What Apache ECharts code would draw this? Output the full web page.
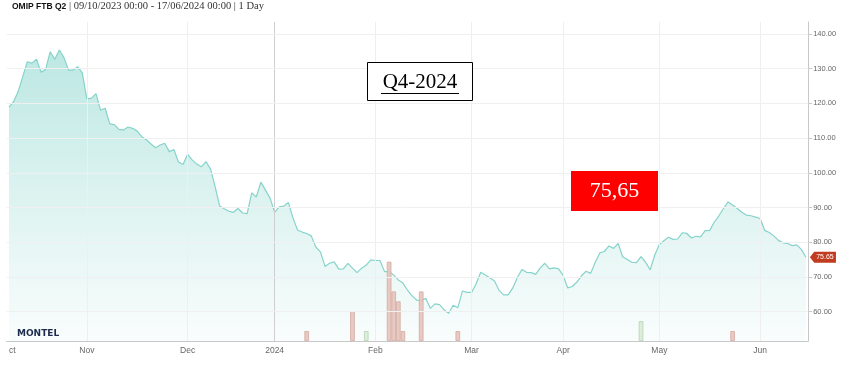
<!DOCTYPE html>
<html><head><meta charset="utf-8">
<script src="https://cdn.jsdelivr.net/npm/echarts@6/dist/echarts.min.js"></script>
<style>html,body{margin:0;padding:0;background:#fff}#c{width:853px;height:374px}</style>
</head><body><div id="c"></div>
<script>
// ---- data ----
const titleMain = 'OMIP FTB Q2';
const titleSub = '| 09/10/2023 00:00 - 17/06/2024 00:00 | 1 Day';
const startDate = '2023-10-09';
const endDate = '2024-06-17';
const holidays = ['2023-12-25','2023-12-26','2024-01-01','2024-03-29','2024-04-01','2024-05-01'];
const monthLabels = {'2023-10':'Oct','2023-11':'Nov','2023-12':'Dec','2024-01':'2024','2024-02':'Feb','2024-03':'Mar','2024-04':'Apr','2024-05':'May','2024-06':'Jun'};
const yTicks = [60,70,80,90,100,110,120,130,140];
const prices = [
118.9,120.5,123.4,127.7,132.0,131.6,132.7,129.0,129.8,134.9,
132.7,135.4,133.2,129.6,129.6,130.6,128.8,121.3,121.5,122.8,
118.0,118.6,114.1,113.9,112.5,112.3,113.2,112.8,112.0,110.4,
109.5,108.3,107.2,108.0,108.5,106.1,106.7,103.1,102.4,105.3,
103.7,102.5,101.7,103.2,101.1,96.0,90.4,89.6,88.9,88.6,
89.7,88.4,88.2,94.2,93.0,97.3,95.0,92.7,88.6,90.2,
90.4,91.4,87.0,83.5,82.9,82.5,81.8,78.6,77.2,73.0,
73.9,74.3,72.2,72.3,73.9,72.5,71.2,72.5,73.4,74.9,
74.7,74.7,71.5,71.5,70.5,69.1,68.2,66.2,64.5,63.3,
63.1,63.8,60.9,62.2,62.0,60.5,59.5,61.8,61.1,65.9,
65.5,65.5,68.0,71.3,70.5,69.7,68.8,66.1,64.8,64.8,
66.8,69.8,72.1,71.3,71.2,70.7,72.6,73.9,72.3,72.6,
72.3,70.4,66.8,67.2,68.5,70.3,71.6,71.0,74.2,76.9,
77.3,78.9,78.2,79.6,75.8,75.0,74.2,74.1,75.8,74.2,
72.0,76.3,79.3,80.4,81.4,80.8,80.9,82.7,82.5,81.2,
81.7,81.5,83.3,83.4,85.8,87.6,89.7,91.6,90.7,89.7,
88.6,87.8,87.6,87.2,86.8,83.4,82.8,81.8,80.5,79.8,
79.6,79.0,79.2,77.9,75.65
];
const volumeDates = ['2024-01-11','2024-01-25','2024-01-30','2024-02-06','2024-02-07','2024-02-08','2024-02-09','2024-02-15','2024-02-27','2024-04-25','2024-05-24'];
const volumeValues = [1,3,1,8,5,4,1,5,1,2,1];
const volumeSide = ['s','s','b','s','s','s','s','s','s','b','s'];
const boxLabel = 'Q4-2024';
const priceLabel = '75,65';
const logoText = 'MONTEL';

// ---- build categories (trading days) ----
function fmt(d){return d.getUTCFullYear()+'-'+String(d.getUTCMonth()+1).padStart(2,'0')+'-'+String(d.getUTCDate()).padStart(2,'0');}
const dates = [];
for (let d = new Date(startDate+'T00:00:00Z'); fmt(d) <= endDate; d.setUTCDate(d.getUTCDate()+1)) {
  const wd = d.getUTCDay(), s = fmt(d);
  if (wd === 0 || wd === 6 || holidays.includes(s)) continue;
  dates.push(s);
}
const monthStart = new Set();
for (let i = 1; i < dates.length; i++) if (dates[i].slice(0,7) !== dates[i-1].slice(0,7)) monthStart.add(i);

const volData = dates.map(()=>null);
volumeDates.forEach((d,k)=>{
  const idx = dates.indexOf(d);
  if (idx >= 0) volData[idx] = {value: volumeValues[k], itemStyle: volumeSide[k]==='b'
    ? {color:'rgba(218,236,216,0.95)', borderColor:'#b5d3b2', borderWidth:0.8}
    : {color:'rgba(230,196,188,0.9)', borderColor:'#d4a99f', borderWidth:0.8}};
});

const gridLines = [];
monthStart.forEach(i=>{
  const isYear = dates[i].slice(5,7) === '01';
  gridLines.push({xAxis: dates[i], lineStyle:{color: isYear ? '#cfcfcf' : '#efefef', width:1, type:'solid'}});
});
yTicks.forEach(v=>gridLines.push({yAxis: v, lineStyle:{color:'#f0f0f0', width:1, type:'solid'}}));

const last = prices.length - 1;
const chart = echarts.init(document.getElementById('c'), null, {renderer:'canvas'});
chart.setOption({
  animation:false,
  backgroundColor:'#fff',
  title:{
    left:12, top:1, padding:0,
    text:'{b|'+titleMain+'}{s| '+titleSub+'}',
    textStyle:{fontWeight:'normal', rich:{
      b:{fontFamily:'Liberation Sans', fontWeight:'bold', fontSize:8.5, color:'#111'},
      s:{fontFamily:'Liberation Serif', fontWeight:'normal', fontSize:10.5, color:'#333'}
    }}
  },
  grid:{left:6.7, right:44.8, top:22, bottom:33, containLabel:false, outerBoundsMode:'none'},
  xAxis:{
    type:'category', data:dates, boundaryGap:true,
    axisLine:{lineStyle:{color:'#c8c8c8'}},
    axisTick:{show:false},
    splitLine:{show:false},
    axisLabel:{
      interval:(i)=> i===0 || monthStart.has(i),
      formatter:(v,i)=> i===0 ? '{h|O}ct' : monthLabels[v.slice(0,7)],
      color:'#666', fontSize:8.5, fontFamily:'Liberation Sans', margin:5,
      rich:{h:{color:'rgba(0,0,0,0)', fontSize:8.5, fontFamily:'Liberation Sans'}}
    }
  },
  yAxis:[{
    type:'value', position:'right', min:51.5, max:143.46,
    axisLine:{show:true, lineStyle:{color:'#c8c8c8'}},
    axisTick:{show:true, length:4, lineStyle:{color:'#c8c8c8'}, customValues:yTicks},
    axisLabel:{customValues:yTicks, formatter:(v)=>v.toFixed(2), color:'#666', fontSize:7.5, fontFamily:'Liberation Sans', margin:5},
    splitLine:{show:false}
  },{
    type:'value', min:0, max:32.2, show:false, splitLine:{show:false}
  }],
  series:[{
    type:'line', data:[], z:1, silent:true,
    markLine:{silent:true, symbol:'none', label:{show:false}, animation:false, data:gridLines}
  },{
    type:'line', data:prices, z:2, showSymbol:false, symbol:'none',
    lineStyle:{color:'#86d3cb', width:1.2},
    areaStyle:{origin:'start', color:{type:'linear', x:0, y:22, x2:0, y2:341, global:true, colorStops:[
      {offset:0, color:'rgba(92,198,186,0.64)'},
      {offset:0.5, color:'rgba(92,198,186,0.33)'},
      {offset:1, color:'rgba(92,198,186,0.05)'}]}},
    markPoint:{
      silent:true, animation:false,
      symbol:'path://M0,5 L5,0 L30,0 L30,10 L5,10 Z', symbolKeepAspect:false,
      symbolSize:[26,11], symbolOffset:[17,0],
      itemStyle:{color:'#c23b1e'},
      label:{show:true, position:'inside', color:'#fff', fontSize:7, fontFamily:'Liberation Sans', offset:[2,0], formatter:(p)=>Number(p.value).toFixed(2)},
      data:[{coord:[dates[last], prices[last]], value:prices[last]}]
    }
  },{
    type:'bar', yAxisIndex:1, data:volData, barWidth:4.6, z:3, silent:true
  }],
  graphic:[
    {type:'rect', shape:{x:367.5, y:62.5, width:105, height:38}, style:{fill:'#fff', stroke:'#000', lineWidth:1}, z:10},
    {type:'text', x:420, y:82, style:{text:boxLabel, fill:'#000', font:'21px "Liberation Serif"', align:'center', verticalAlign:'middle'}, z:11},
    {type:'line', shape:{x1:381, y1:93.5, x2:459, y2:93.5}, style:{stroke:'#000', lineWidth:1}, z:11},
    {type:'rect', shape:{x:571, y:171, width:87, height:40}, style:{fill:'#ff0000'}, z:10},
    {type:'text', x:614.5, y:191.5, style:{text:priceLabel, fill:'#fff', font:'22px "Liberation Serif"', align:'center', verticalAlign:'middle'}, z:11},
    {type:'text', x:17, y:333.5, style:{text:logoText, fill:'#1c2b4d', font:'bold 9px "DejaVu Sans"', align:'left', verticalAlign:'middle'}, z:11}
  ]
});
</script></body></html>
